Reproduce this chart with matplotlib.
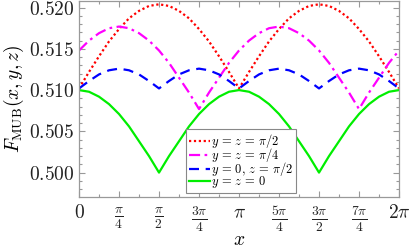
import numpy as np
import matplotlib
matplotlib.use('Agg')
import matplotlib.pyplot as plt
from matplotlib.ticker import MultipleLocator

plt.rcParams['mathtext.fontset'] = 'cm'
plt.rcParams['font.family'] = 'serif'

# x sampled every pi/16 from 0 to 2*pi
x_steps = list(range(33))

f_red = [0.5102, 0.5122, 0.5141, 0.5159, 0.5174, 0.5187, 0.5196, 0.5202, 0.5204,
         0.5202, 0.5196, 0.5187, 0.5174, 0.5159, 0.5141, 0.5122, 0.5102,
         0.5122, 0.5141, 0.5159, 0.5174, 0.5187, 0.5196, 0.5202, 0.5204,
         0.5202, 0.5196, 0.5187, 0.5174, 0.5159, 0.5141, 0.5122, 0.5102]
f_magenta = [0.5148, 0.5160, 0.5169, 0.5175, 0.5177, 0.5175, 0.5169, 0.5160, 0.5148,
             0.5133, 0.5115, 0.5097, 0.5077, 0.5097, 0.5115, 0.5133, 0.5148,
             0.5160, 0.5169, 0.5175, 0.5177, 0.5175, 0.5169, 0.5160, 0.5148,
             0.5133, 0.5115, 0.5097, 0.5077, 0.5097, 0.5115, 0.5133, 0.5148]
f_blue = [0.5102, 0.5111, 0.5119, 0.5124, 0.5126, 0.5124, 0.5119, 0.5111, 0.5102,
          0.5111, 0.5119, 0.5124, 0.5126, 0.5124, 0.5119, 0.5111, 0.5102,
          0.5111, 0.5119, 0.5124, 0.5126, 0.5124, 0.5119, 0.5111, 0.5102,
          0.5111, 0.5119, 0.5124, 0.5126, 0.5124, 0.5119, 0.5111, 0.5102]
f_green = [0.5100, 0.5098, 0.5092, 0.5083, 0.5071, 0.5056, 0.5038, 0.5020, 0.5000,
           0.5020, 0.5038, 0.5056, 0.5071, 0.5083, 0.5092, 0.5098, 0.5100,
           0.5098, 0.5092, 0.5083, 0.5071, 0.5056, 0.5038, 0.5020, 0.5000,
           0.5020, 0.5038, 0.5056, 0.5071, 0.5083, 0.5092, 0.5098, 0.5100]

labels = [r'$y\,=\,z\,=\,\pi/2$', r'$y\,=\,z\,=\,\pi/4$',
          r'$y\,=\,0,\,z\,=\,\pi/2$', r'$y\,=\,z\,=\,0$']
xtick_labels = [r'$0$', r'$\frac{\pi}{4}$', r'$\frac{\pi}{2}$', r'$\frac{3\pi}{4}$', r'$\pi$',
                r'$\frac{5\pi}{4}$', r'$\frac{3\pi}{2}$', r'$\frac{7\pi}{4}$', r'$2\pi$']
ytick_values = [0.500, 0.505, 0.510, 0.515, 0.520]

x = np.array(x_steps) * np.pi / 16

fig = plt.figure(figsize=(4.09, 2.48), dpi=100)
ax = fig.add_axes([0.1932, 0.2056, 0.7824, 0.7904])

ax.plot(x, f_red, color='#ff0000', linestyle=(0, (1, 1.2)), linewidth=1.6, label=labels[0])
ax.plot(x, f_magenta, color='#ff00ff', linestyle=(0, (5, 2, 1.2, 2)), linewidth=1.6, label=labels[1])
ax.plot(x, f_blue, color='#0000ff', linestyle=(0, (4.5, 3)), linewidth=1.6, label=labels[2])
ax.plot(x, f_green, color='#00ee00', linestyle='-', linewidth=1.6, label=labels[3])

ax.set_xlim(0, 2 * np.pi)
ax.set_ylim(0.49704, 0.5208)
ax.set_xticks(np.arange(9) * np.pi / 4)
ax.set_xticklabels(xtick_labels)
ax.xaxis.set_minor_locator(MultipleLocator(np.pi / 8))
ax.set_yticks(ytick_values)
ax.set_yticklabels([rf'${v:.3f}$' for v in ytick_values])
ax.yaxis.set_minor_locator(MultipleLocator(0.001))

ax.tick_params(which='both', direction='in', top=True, right=True, color='#999999',
               labelcolor='#222222', width=0.8)
ax.tick_params(which='major', length=4, labelsize=14)
ax.tick_params(which='minor', length=2.5)
ax.tick_params(axis='x', pad=5)
for s in ax.spines.values():
    s.set_color('#999999')
    s.set_linewidth(0.9)

ax.set_xlabel(r'$x$', fontsize=14, labelpad=-2)
ax.set_ylabel(r'$F_{\mathrm{MUB}}(x,y,z)$', fontsize=14, labelpad=2)

leg = ax.legend(loc='lower left', bbox_to_anchor=(0.334, 0.02), borderaxespad=0,
                fontsize=9, handlelength=1.7, handletextpad=0.05, labelspacing=-0.32,
                borderpad=0.25, fancybox=False, framealpha=1, edgecolor='#888888')
leg.get_frame().set_linewidth(0.8)

fig.savefig('out.png', dpi=100)
